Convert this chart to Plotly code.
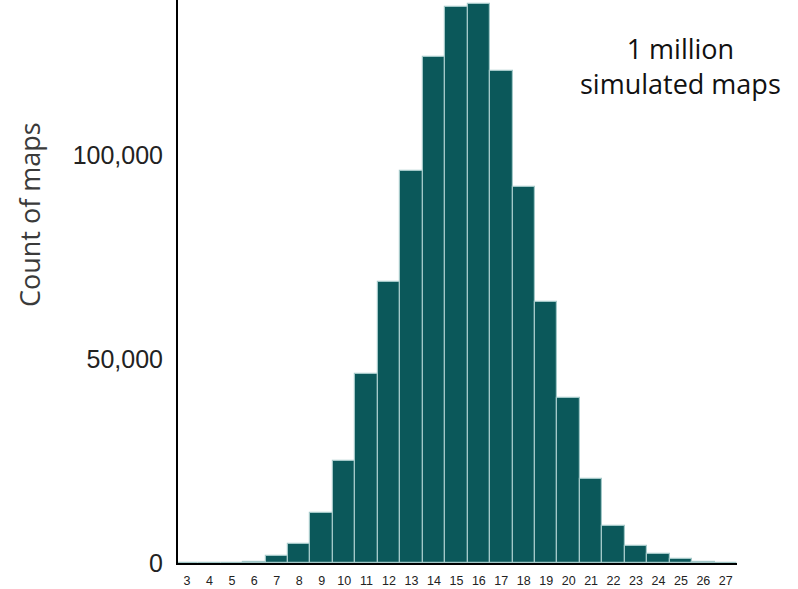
import plotly.graph_objects as go

categories = list(range(3, 28))
counts = [0, 0, 0, 300, 1700, 4700, 12300, 25000, 46300, 68900, 96100, 124000,
          136300, 137000, 120600, 92200, 64000, 40400, 20600, 9100, 4200, 2200,
          1000, 300, 100]
y_ticks = [0, 50000, 100000]
y_tick_labels = ["0", "50,000", "100,000"]

L, R, T, B = 178, 61, 0, 26
W, H = 798, 589
pw, ph = W - L - R, H - T - B


def px(x):
    return (x - L) / pw


def py(y):
    return 1 - (y - T) / ph


fig = go.Figure()
fig.add_trace(go.Bar(
    x=categories, y=counts, width=1.0,
    marker=dict(color="#0b585a", line=dict(color="#a3c8c8", width=1.2)),
))

fig.update_layout(
    width=W, height=H,
    margin=dict(l=L, r=R, t=T, b=B, autoexpand=False),
    paper_bgcolor="white", plot_bgcolor="white",
    showlegend=False, bargap=0,
    xaxis=dict(range=[2.6, 27.5], tickmode="array", tickvals=categories,
               ticktext=[str(c) for c in categories],
               tickfont=dict(family="Liberation Sans, Arial", size=12.5, color="#222"),
               showline=True, linecolor="black", linewidth=2, showgrid=False,
               zeroline=False, ticks="outside", ticklen=5, tickcolor="rgba(0,0,0,0)",
               automargin=False),
    yaxis=dict(range=[0, 138000], tickmode="array", tickvals=y_ticks,
               ticktext=y_tick_labels,
               tickfont=dict(family="Liberation Sans, Arial", size=25, color="#222"),
               showline=True, linecolor="black", linewidth=2, showgrid=False,
               zeroline=False, ticks="outside", ticklen=8, tickcolor="rgba(0,0,0,0)",
               automargin=False),
    annotations=[
        dict(text="Count of maps", x=px(30), y=py(215), xref="paper", yref="paper",
             xanchor="center", yanchor="middle",
             showarrow=False, textangle=-90,
             font=dict(family="Open Sans", size=27, color="#3a3a3a")),
        dict(text="1 million<br>simulated maps", x=px(680), y=py(66), showarrow=False,
             xref="paper", yref="paper", xanchor="center", yanchor="middle",
             font=dict(family="Open Sans", size=27, color="#111")),
    ],
)

fig.write_html("out.html", config={"displayModeBar": False},
               post_script="document.body.style.margin='0';document.body.style.overflow='hidden';")
